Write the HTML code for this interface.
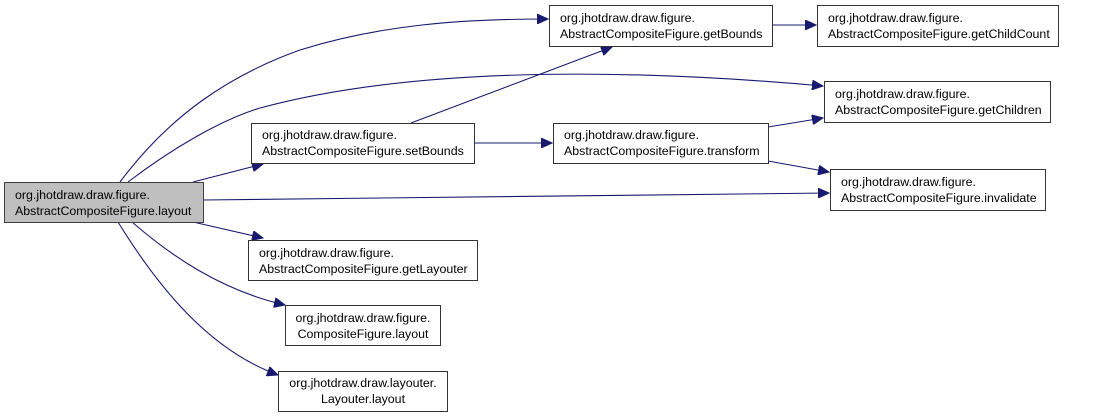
<!DOCTYPE html>
<html><head><meta charset="utf-8"><style>
html,body{margin:0;padding:0;background:#fff;}
svg{display:block;}
text{font-family:"Liberation Sans",Arial,sans-serif;font-size:12.4px;fill:#000;}
</style></head><body>
<svg width="1093" height="417" viewBox="0 0 1093 417" xmlns="http://www.w3.org/2000/svg">
<defs>
<marker id="a" markerWidth="12" markerHeight="10" refX="11" refY="5" orient="auto" markerUnits="userSpaceOnUse">
<path d="M0,0 L11,5 L0,10 Z" fill="#191970" stroke="#191970"/>
</marker>
</defs>
<g fill="none" stroke="#191970" stroke-width="1.1">
<path d="M120,182 C170,115 230,75 300,50 C380,25 460,19 548,19" marker-end="url(#a)"/>
<path d="M128,182 C170,150 220,120 260,108 C400,70 600,66 823,86" marker-end="url(#a)"/>
<path d="M411,123 L612,47" marker-end="url(#a)"/>
<path d="M193,182 L263,164" marker-end="url(#a)"/>
<path d="M474,143 L552,143" marker-end="url(#a)"/>
<path d="M203,200 L829,193" marker-end="url(#a)"/>
<path d="M193,222 L263,238" marker-end="url(#a)"/>
<path d="M132,222 C170,255 220,290 285,305" marker-end="url(#a)"/>
<path d="M118,222 C160,290 210,350 278,375" marker-end="url(#a)"/>
<path d="M772,25 L816,25" marker-end="url(#a)"/>
<path d="M768,127 L823,118" marker-end="url(#a)"/>
<path d="M768,161 L829,172" marker-end="url(#a)"/>
</g>
<g stroke="#333" stroke-width="1">
<rect x="4.5" y="182.5" width="199" height="40" fill="#bfbfbf" stroke="#404040"/>
<rect x="251.5" y="123.5" width="223" height="40" fill="#fff"/>
<rect x="248.5" y="240.5" width="229" height="40" fill="#fff"/>
<rect x="285.5" y="305.5" width="155" height="40" fill="#fff"/>
<rect x="278.5" y="371.5" width="169" height="40" fill="#fff"/>
<rect x="549.5" y="5.5" width="223" height="41" fill="#fff"/>
<rect x="817.5" y="5.5" width="241" height="41" fill="#fff"/>
<rect x="824.5" y="81.5" width="226" height="41" fill="#fff"/>
<rect x="553.5" y="123.5" width="215" height="40" fill="#fff"/>
<rect x="830.5" y="169.5" width="215" height="41" fill="#fff"/>
</g>
<text x="15" y="199">org.jhotdraw.draw.figure.</text>
<text x="15" y="215">AbstractCompositeFigure.layout</text>
<text x="262" y="139">org.jhotdraw.draw.figure.</text>
<text x="262" y="155">AbstractCompositeFigure.setBounds</text>
<text x="259" y="257">org.jhotdraw.draw.figure.</text>
<text x="259" y="273">AbstractCompositeFigure.getLayouter</text>
<text x="363" y="322" text-anchor="middle">org.jhotdraw.draw.figure.</text>
<text x="363" y="338" text-anchor="middle">CompositeFigure.layout</text>
<text x="363" y="387" text-anchor="middle">org.jhotdraw.draw.layouter.</text>
<text x="363" y="403" text-anchor="middle">Layouter.layout</text>
<text x="560" y="22">org.jhotdraw.draw.figure.</text>
<text x="560" y="38">AbstractCompositeFigure.getBounds</text>
<text x="828" y="22">org.jhotdraw.draw.figure.</text>
<text x="828" y="38">AbstractCompositeFigure.getChildCount</text>
<text x="835" y="98">org.jhotdraw.draw.figure.</text>
<text x="835" y="114">AbstractCompositeFigure.getChildren</text>
<text x="564" y="139">org.jhotdraw.draw.figure.</text>
<text x="564" y="155">AbstractCompositeFigure.transform</text>
<text x="841" y="186">org.jhotdraw.draw.figure.</text>
<text x="841" y="202">AbstractCompositeFigure.invalidate</text>
</svg>
</body></html>
